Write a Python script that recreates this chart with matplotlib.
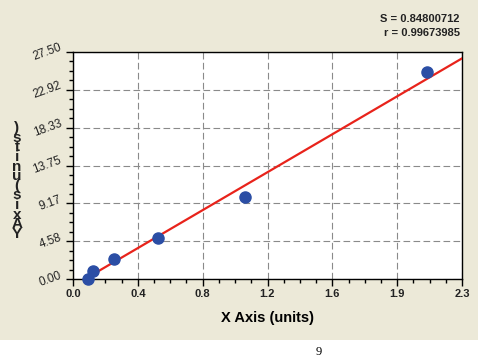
import matplotlib.pyplot as plt
from matplotlib.patches import Rectangle
from matplotlib.ticker import AutoMinorLocator
import numpy as np

# standard curve points
x = [0.091, 0.12, 0.242, 0.505, 1.019, 2.091]
y = [0.0, 1.0, 2.42, 4.93, 9.97, 25.04]

# linear fit drawn in the chart
slope = 11.99
intercept = -0.85
fit_start = 0.071

xticks = np.linspace(0, 2.3, 7)
xtick_labels = ['0.0', '0.4', '0.8', '1.2', '1.6', '1.9', '2.3']
yticks = np.linspace(0, 27.5, 7)
ytick_labels = ['0.00', '4.58', '9.17', '13.75', '18.33', '22.92', '27.50']

s_text = 'S = 0.84800712'
r_text = 'r = 0.99673985'

plt.rcParams['font.family'] = ['Liberation Sans', 'DejaVu Sans']

fig = plt.figure(figsize=(4.78, 3.61), dpi=100, facecolor='white')
fig.patches.append(Rectangle((0, 21 / 361), 1, 1, transform=fig.transFigure,
                             facecolor='#ECE9D8', edgecolor='none', zorder=-10))

ax = fig.add_axes([73 / 478, 1 - 279 / 361, (462 - 73) / 478, (279 - 52) / 361])
ax.set_facecolor('white')

# fit line and points
fx = np.array([fit_start, 2.3])
ax.plot(fx, slope * fx + intercept, color='#E8231B', lw=1.6, zorder=3)
ax.plot(x, y, 'o', color='#2B4EA5', markersize=8, zorder=4, clip_on=False)

ax.set_xlim(0, 2.3)
ax.set_ylim(0, 27.5)
ax.set_xticks(xticks)
ax.set_xticklabels(xtick_labels, fontsize=8, fontweight='bold', color='#222222')
ax.set_yticks(yticks)
ax.set_yticklabels(ytick_labels, fontsize=8.5, color='#222222', rotation=20,
                   ha='right', va='center')
ax.xaxis.set_minor_locator(AutoMinorLocator(4))
ax.yaxis.set_minor_locator(AutoMinorLocator(4))
ax.tick_params(which='major', length=5, width=1, direction='out', pad=2)
ax.tick_params(which='minor', length=3, width=1, direction='out')
ax.grid(True, which='major', color='#8a8a8a', linestyle=(0, (6, 3)), lw=0.8)
for sp in ax.spines.values():
    sp.set_color('black')
    sp.set_linewidth(1)

ax.set_xlabel('X Axis (units)', fontsize=10.5, fontweight='bold', labelpad=9)

# the y label is printed as upright letters stacked bottom to top
ylab = 'Y Axis (units)'.replace(' ', '')
fig.text(17 / 478, 1 - 181 / 361, '\n'.join(reversed(ylab)), fontsize=11,
         fontweight='bold', ha='center', va='center', linespacing=0.6,
         color='#222222')

fig.text(460 / 478, 1 - 19 / 361, s_text, fontsize=8, fontweight='bold',
         ha='right', va='center', color='#222222')
fig.text(460 / 478, 1 - 33 / 361, r_text, fontsize=8, fontweight='bold',
         ha='right', va='center', color='#222222')

fig.text(319 / 478, 1 - 352 / 361, '9', fontsize=9, family='Liberation Serif',
         ha='center', va='center')

fig.savefig('out.png', dpi=100, facecolor=fig.get_facecolor())
